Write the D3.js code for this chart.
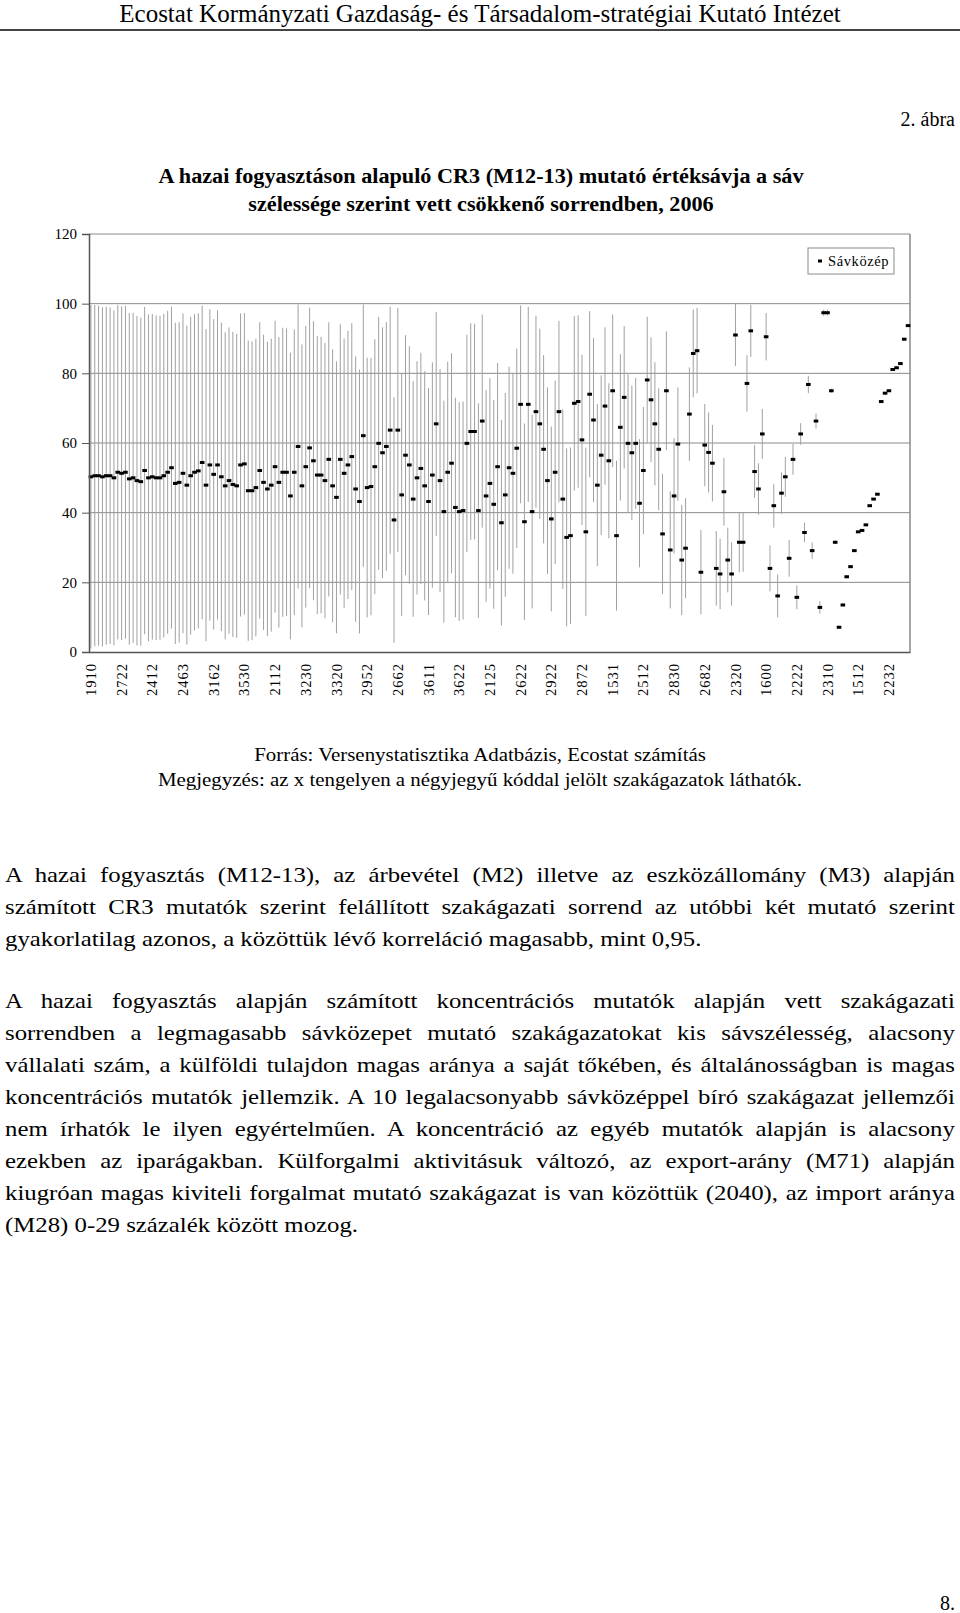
<!DOCTYPE html>
<html>
<head>
<meta charset="utf-8">
<script src="https://cdn.jsdelivr.net/npm/d3@7"></script>
<style>
  html, body { margin: 0; padding: 0; background: #fff; }
  body { width: 960px; height: 1613px; position: relative; overflow: hidden; font-family: "Liberation Serif", "Times New Roman", serif; }
  #chart { position: absolute; left: 0; top: 0; }
  .para { position: absolute; left: 5px; width: 805px; font-size: 21px; color: #000; transform: scaleX(1.18); transform-origin: 0 0; }
  .para div { height: 32px; line-height: 32px; white-space: nowrap; text-align: justify; text-align-last: justify; }
  .para div.last { text-align: left; text-align-last: left; }
</style>
</head>
<body>
<svg id="chart" width="960" height="1613"></svg>
<div class="para" id="p1" style="top:859px"></div>
<div class="para" id="p2" style="top:985px"></div>
<script>
// ---- data ----
const tickLabels = ["1910","2722","2412","2463","3162","3530","2112","3230","3320","2952","2662","3611","3622","2125","2622","2922","2872","1531","2512","2830","2682","2320","1600","2222","2310","1512","2232"];
const yTicks = [0, 20, 40, 60, 80, 100, 120];
// Sávközép (band middle) for each sector, in chart order
const savkozep = [
  50.3,50.6,50.6,50.3,50.6,50.6,50.0,51.6,51.3,51.6,
  49.7,50.0,49.2,48.9,52.1,50.0,50.3,50.0,50.0,50.6,
  51.6,52.9,48.4,48.7,51.3,47.9,50.6,51.6,52.0,54.4,
  47.9,53.7,51.0,53.7,50.3,47.7,49.2,48.1,47.7,53.7,
  54.0,46.3,46.3,47.2,52.1,48.7,46.8,47.9,53.2,48.7,
  51.6,51.6,44.8,51.6,59.0,47.7,53.2,58.6,54.9,50.8,
  50.8,49.2,55.3,47.7,44.4,
  55.3,51.3,53.7,56.1,46.8,43.2,62.1,47.2,47.5,53.2,
  59.9,57.2,59.0,63.7,37.9,63.7,45.1,56.5,53.7,43.9,
  50.0,52.7,47.7,43.2,50.8,65.5,49.2,40.3,51.6,54.2,
  41.5,40.3,40.6,59.9,63.3,63.3,40.6,66.3,44.8,48.4,
  42.4,53.2,37.1,45.1,52.9,51.3,58.5,71.1,37.4,71.1,
  40.3,69.0,65.5,58.2,49.2,38.2,51.6,69.0,43.9,32.9,
  33.4,71.4,71.9,60.9,34.5,74.0,66.6,47.9,56.5,70.6,
  54.9,75.0,33.4,64.5,73.1,59.9,57.2,59.9,42.7,52.1,
  78.1,72.4,65.5,58.2,
  33.9,75.0,29.3,44.8,59.7,26.4,29.8,68.3,85.7,86.5,
  22.9,59.4,57.3,54.2,24.0,22.4,46.0,26.4,22.4,91.0,
  31.5,31.5,77.1,92.2,51.8,46.8,62.6,90.5,24.0,42.0,
  16.1,45.6,50.3,26.9,55.3,15.7,62.6,34.3,76.8,29.1,
  66.3,12.8,97.4,97.4,75.0,31.5,7.1,13.5,21.6,24.5,
  29.1,34.5,34.9,36.5,42.0,43.9,45.3,71.9,74.3,75.0,
  81.1,81.6,82.8,89.8,93.7
];
// band width (sávszélesség), decreasing order
const savszelesseg = [
  98.6,98.0,97.6,97.4,97.0,96.6,96.2,96.0,95.8,95.6,
  95.2,94.8,94.6,94.2,94.0,93.8,93.5,93.2,93.0,92.9,
  92.7,92.4,92.2,92.0,91.8,91.5,91.2,90.8,90.4,90.0,
  89.6,89.4,89.1,88.8,88.5,88.2,87.9,87.6,87.3,87.0,
  86.6,86.2,85.8,85.5,85.1,84.8,84.5,84.1,83.8,83.4,
  83.0,82.6,82.3,82.0,81.6,81.2,80.9,80.5,80.1,79.8,
  79.4,79.0,78.7,78.4,78.0,77.6,77.3,77.0,76.6,76.2,
  75.8,75.3,74.6,73.9,73.2,72.6,72.0,71.4,70.9,70.5,
  70.1,69.5,68.9,68.2,67.6,67.0,66.4,65.8,65.2,64.7,
  64.3,64.0,63.7,63.5,63.2,63.0,62.8,62.6,62.4,62.2,
  61.9,61.6,61.2,60.8,60.4,60.0,59.5,59.0,58.5,58.0,
  57.6,57.2,56.8,56.4,56.0,55.6,55.1,54.6,54.1,53.6,
  53.1,52.6,52.1,51.6,51.1,50.6,50.1,49.5,48.9,48.3,
  47.7,47.1,46.5,45.9,45.2,44.5,43.8,43.0,42.0,40.9,
  39.8,38.6,37.6,36.8,36.5,36.3,35.8,35.4,35.0,34.6,
  34.1,33.6,33.1,32.5,31.6,28.7,26.8,25.2,24.6,24.2,
  23.6,23.0,22.0,21.4,20.2,19.4,18.6,18.2,17.8,17.3,
  17.0,16.2,15.0,15.2,14.8,14.3,13.6,13.2,12.6,12.3,
  12.0,11.5,10.5,8.8,6.8,6.2,5.6,5.0,4.7,4.3,
  3.6,1.8,1.7,1.2,1.0,0.9,0.8,0.8,0.7,0.7,
  0.6,0.6,0.5,0.5,0.5,0.4,0.4,0.3,0.3,0.3,
  0.2,0.2,0.1,0.1
];
const labelStep = 8;

const para1 = [
  "A hazai fogyasztás (M12-13), az árbevétel (M2) illetve az eszközállomány (M3) alapján",
  "számított CR3 mutatók szerint felállított szakágazati sorrend az utóbbi két mutató szerint",
  "gyakorlatilag azonos, a közöttük lévő korreláció magasabb, mint 0,95."
];
const para2 = [
  "A hazai fogyasztás alapján számított koncentrációs mutatók alapján vett szakágazati",
  "sorrendben a legmagasabb sávközepet mutató szakágazatokat kis sávszélesség, alacsony",
  "vállalati szám, a külföldi tulajdon magas aránya a saját tőkében, és általánosságban is magas",
  "koncentrációs mutatók  jellemzik. A 10 legalacsonyabb sávközéppel bíró szakágazat jellemzői",
  "nem írhatók le ilyen egyértelműen. A koncentráció az egyéb mutatók alapján is alacsony",
  "ezekben az iparágakban. Külforgalmi aktivitásuk változó, az export-arány (M71) alapján",
  "kiugróan magas kiviteli forgalmat mutató szakágazat is van közöttük (2040), az import aránya",
  "(M28) 0-29 százalék között mozog."
];

// ---- drawing ----
const svg = d3.select("#chart");
const serif = "'Liberation Serif', 'Times New Roman', serif";
const data = savkozep.map((m, i) => ({ i, mid: m, w: savszelesseg[i] }));

// helper: horizontally stretched centred text
function stretched(xc, yb, size, sx, str, bold) {
  const g = svg.append("g").attr("transform", `translate(${xc},${yb}) scale(${sx},1)`);
  g.append("text").attr("text-anchor", "middle").attr("font-family", serif)
    .attr("font-size", size).attr("font-weight", bold ? "bold" : "normal").text(str);
  return g;
}

// page header
stretched(480, 22, 25, 1.0, "Ecostat Kormányzati Gazdaság- és Társadalom-stratégiai Kutató Intézet");
svg.append("line").attr("x1", 0).attr("x2", 960).attr("y1", 30).attr("y2", 30)
  .attr("stroke", "#444").attr("stroke-width", 2);
svg.append("text").attr("x", 955).attr("y", 126).attr("text-anchor", "end")
  .attr("font-family", serif).attr("font-size", 20).text("2. ábra");

// title
stretched(481, 183, 20, 1.11, "A hazai fogyasztáson alapuló CR3 (M12-13) mutató értéksávja a sáv", true);
stretched(481, 211, 20, 1.11, "szélessége szerint vett csökkenő sorrendben, 2006", true);

const plot = { left: 89, right: 910, top: 234, bottom: 652 };
const x = d3.scaleBand().domain(d3.range(data.length)).range([plot.left, plot.right]).paddingInner(0).paddingOuter(0);
const y = d3.scaleLinear().domain([0, 120]).range([plot.bottom, plot.top]);
const cx = i => x(i) + x.bandwidth() / 2;

// gridlines
svg.append("g").selectAll("line").data(yTicks.filter(t => t > 0)).join("line")
  .attr("x1", plot.left).attr("x2", plot.right)
  .attr("y1", d => y(d)).attr("y2", d => y(d))
  .attr("stroke", "#8a8a8a").attr("stroke-width", 1);
// right border
svg.append("line").attr("x1", plot.right).attr("x2", plot.right)
  .attr("y1", plot.top).attr("y2", plot.bottom).attr("stroke", "#8a8a8a").attr("stroke-width", 1.5);

// high-low lines
svg.append("g").selectAll("line").data(data).join("line")
  .attr("x1", d => cx(d.i)).attr("x2", d => cx(d.i))
  .attr("y1", d => y(d.mid + d.w / 2)).attr("y2", d => y(d.mid - d.w / 2))
  .attr("stroke", "#a0a0a0").attr("stroke-width", 1);

// markers
svg.append("g").selectAll("rect").data(data).join("rect")
  .attr("x", d => cx(d.i) - 2.3).attr("y", d => y(d.mid) - 1.5)
  .attr("width", 4.6).attr("height", 3).attr("fill", "#000");

// y axis
const yAxis = svg.append("g").attr("transform", `translate(${plot.left},0)`)
  .call(d3.axisLeft(y).tickValues(yTicks).tickSize(7).tickPadding(5));
yAxis.select(".domain").attr("stroke", "#555").attr("stroke-width", 1.5);
yAxis.selectAll(".tick line").attr("stroke", "#555");
yAxis.selectAll("text").attr("font-family", serif).attr("font-size", 15).attr("fill", "#000");

// x axis
const xAxis = svg.append("g").attr("transform", `translate(0,${plot.bottom})`)
  .call(d3.axisBottom(x).tickValues(d3.range(0, data.length, labelStep))
    .tickFormat(i => tickLabels[i / labelStep]).tickSize(0).tickSizeOuter(0));
xAxis.select(".domain").attr("stroke", "#555").attr("stroke-width", 1.5);
xAxis.selectAll("text")
  .attr("transform", "rotate(-90)").attr("x", -11).attr("y", 0).attr("dy", "0.35em")
  .attr("text-anchor", "end")
  .attr("font-family", serif).attr("font-size", 14.5).attr("fill", "#000").attr("letter-spacing", 1);

// legend
const lg = svg.append("g").attr("transform", "translate(808,248)");
lg.append("rect").attr("width", 86).attr("height", 26).attr("fill", "#fff").attr("stroke", "#8a8a8a");
lg.append("rect").attr("x", 10).attr("y", 11.5).attr("width", 4).attr("height", 3).attr("fill", "#000");
lg.append("text").attr("x", 20).attr("y", 18).attr("font-family", serif).attr("font-size", 14.5)
  .attr("letter-spacing", 0.6).text("Sávközép");

// notes
stretched(480, 761, 19, 1.1, "Forrás: Versenystatisztika Adatbázis, Ecostat számítás");
stretched(480, 786, 19, 1.1, "Megjegyzés: az x tengelyen a négyjegyű kóddal jelölt szakágazatok láthatók.");

// page number
svg.append("text").attr("x", 955).attr("y", 1610).attr("text-anchor", "end")
  .attr("font-family", serif).attr("font-size", 20).text("8.");

// paragraphs
function fill(id, lines) {
  d3.select(id).selectAll("div").data(lines).join("div")
    .classed("last", (d, i) => i === lines.length - 1)
    .text(d => d);
}
fill("#p1", para1);
fill("#p2", para2);
</script>
</body>
</html>
